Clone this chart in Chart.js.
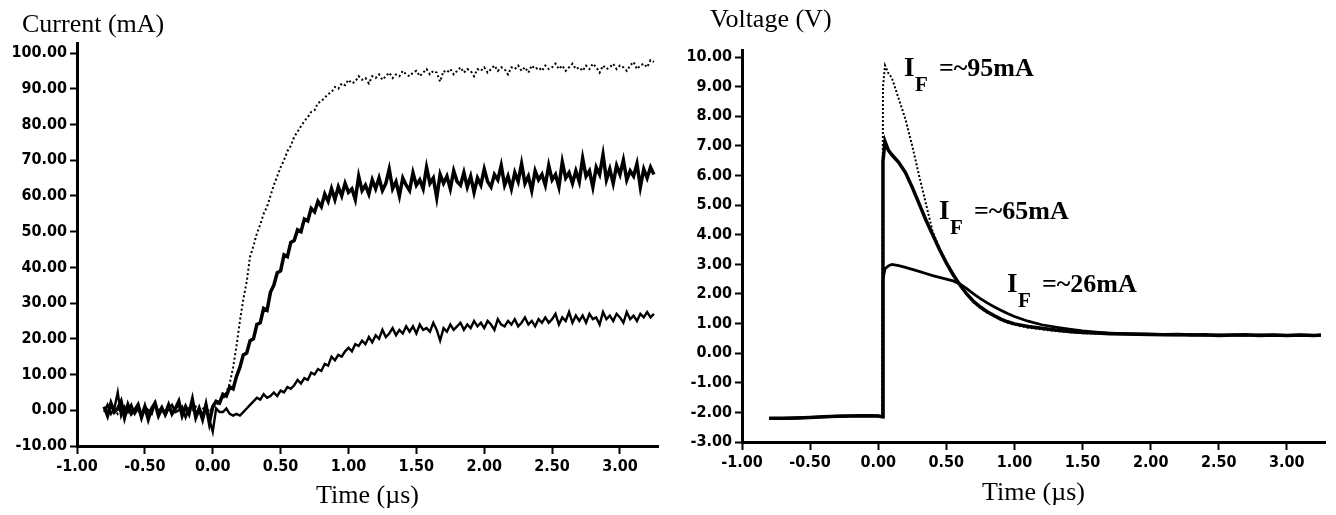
<!DOCTYPE html>
<html>
<head>
<meta charset="utf-8">
<script src="https://cdn.jsdelivr.net/npm/chart.js@4.4.1/dist/chart.umd.min.js"></script>
<style>
  html, body { margin: 0; padding: 0; background: #fff; }
  #wrap { position: relative; width: 1336px; height: 515px; }
  .pane { position: absolute; top: 0; width: 668px; height: 515px; }
</style>
</head>
<body>
<div id="wrap">
  <div class="pane" style="left:0"><canvas id="currentChart" width="668" height="515"></canvas></div>
  <div class="pane" style="left:668px"><canvas id="voltageChart" width="668" height="515"></canvas></div>
</div>
<script>
// tick labels
const timeTicks = [-1, -0.5, 0, 0.5, 1, 1.5, 2, 2.5, 3]
const currentTicks = [-10, 0, 10, 20, 30, 40, 50, 60, 70, 80, 90, 100]
const voltageTicks = [-3, -2, -1, 0, 1, 2, 3, 4, 5, 6, 7, 8, 9, 10]

// current traces: sampled every 0.025 us starting at -0.8 us
const curStart = -0.8
const curStep = 0.025

const cur95 = [
  0.5, -0.8, 1.2, 0.3, -1.0, 0.8, -0.4, 1.5, 0.2, -0.6,
  0.9, -0.3, 0.4, -1.1, 0.7, 1.8, -0.5, 0.3, -0.9, 1.1,
  0.2, -0.7, 1.4, 0.5, -1.2, 0.6, -0.3, 1.0, -0.8, 0.4,
  1.2, -0.5, 0.8, 1.5, 2.2, 3.2, 5.0, 7.5, 12.0, 18.0,
  25.0, 31.0, 36.0, 43.0, 46.0, 49.5, 52.0, 55.0, 57.0, 60.0,
  63.0, 65.5, 68.0, 70.0, 72.5, 74.0, 76.5, 78.0, 79.5, 81.0,
  82.0, 83.5, 84.0, 86.0, 86.5, 87.5, 88.5, 89.0, 90.5, 90.0,
  91.5, 91.0, 92.5, 91.5, 92.0, 93.5, 92.5, 93.0, 91.5, 93.5,
  93.0, 94.0, 92.5, 93.5, 94.5, 93.0, 94.0, 93.5, 95.0, 94.0,
  93.5, 94.5, 95.0, 93.5, 94.5, 95.5, 94.0, 95.0, 94.5, 92.0,
  95.0, 94.5, 95.5, 94.0, 95.0, 96.0, 94.5, 95.5, 95.0, 93.5,
  95.5, 95.0, 96.0, 94.5, 95.5, 96.5, 95.0, 96.0, 95.5, 94.0,
  96.0, 95.5, 96.5, 95.0, 96.0, 94.5, 96.5, 95.5, 96.0, 95.0,
  96.5, 95.5, 96.0, 97.0, 95.5, 96.5, 95.0, 96.0, 97.0, 95.5,
  96.0, 95.0, 96.5, 95.5, 97.0, 96.0, 94.5, 96.5, 95.5, 96.0,
  97.0, 95.5, 96.5, 96.0, 95.0, 96.5, 97.5, 95.5, 96.5, 97.0,
  96.0, 98.0, 97.5
]

const cur65 = [
  1.0, -1.5, 2.0, -0.5, 0.5, 2.5, -2.0, 1.5, -1.0, 0.0,
  1.5, -2.0, 1.0, -2.5, 0.5, 2.0, -1.5, 0.5, -1.0, 1.5,
  -1.0, 0.5, 2.5, -1.5, 1.0, -1.0, 3.0, -2.0, 0.5, -2.5,
  1.5, -3.5, 1.0, 2.5, 2.0, 4.5, 4.0, 6.5, 6.0, 9.5,
  12.0, 15.5, 16.0, 19.5, 20.0, 24.0, 24.5, 28.5, 28.0, 33.0,
  35.0, 38.5, 39.0, 43.5, 43.0, 47.0, 47.5, 50.5, 50.0, 53.5,
  53.0, 56.5, 55.5, 58.5, 57.0, 60.5, 58.5, 62.0, 59.0, 62.5,
  60.0, 63.5, 61.0, 62.0, 59.0, 65.5, 61.5, 63.0, 60.5, 64.5,
  62.0, 65.0, 61.5, 63.5, 67.5, 62.0, 64.0, 60.0, 65.0, 63.0,
  61.5, 66.5, 63.0, 64.5, 62.0, 68.0, 63.5, 65.0, 59.5, 66.0,
  63.5, 65.5, 62.0, 67.0, 64.0, 63.0, 66.5, 62.5, 65.5, 61.0,
  65.0, 63.0, 67.5, 64.0, 62.5, 66.0, 64.5, 68.5, 63.0, 65.5,
  62.0, 66.5, 64.0, 69.0, 63.5, 65.5, 61.5, 67.0, 64.5, 66.0,
  63.0, 68.5, 64.5, 66.0, 62.5, 69.5, 65.0, 66.5, 63.5, 67.0,
  64.0, 70.5, 65.5, 67.0, 62.5, 68.0, 66.0, 71.5, 64.5, 67.5,
  63.5, 68.5, 66.0, 70.0, 64.5, 67.0, 65.5, 69.0, 62.5, 67.5,
  65.0, 68.0, 66.0
]

const cur26 = [
  -0.5, 1.5, -1.0, 0.5, 5.0, -1.5, 1.0, -0.5, 1.5, -1.0,
  0.5, -1.5, 1.0, 0.0, -1.0, 2.0, -0.5, 1.0, -1.5, 0.5,
  1.5, -0.5, 0.0, 1.0, -2.0, 0.5, 1.5, -1.0, 0.5, -1.5,
  1.0, -2.5, -6.0, 0.5, -0.5, -0.5, 0.5, -1.0, -1.5, -1.0,
  -1.5, -0.5, 0.5, 1.5, 2.5, 3.5, 3.0, 4.5, 3.5, 4.0,
  5.0, 4.0, 5.5, 5.0, 6.5, 6.0, 7.0, 8.5, 7.5, 9.0,
  8.5, 10.5, 10.0, 11.5, 11.0, 13.0, 12.5, 15.0, 14.0, 15.5,
  15.0, 16.5, 17.5, 16.5, 18.5, 18.0, 19.5, 18.5, 20.5, 19.0,
  21.0, 20.0, 22.5, 20.5, 21.5, 23.0, 21.0, 22.5, 21.5, 23.5,
  22.0, 23.5, 21.5, 24.0, 22.5, 23.0, 22.0, 24.5, 22.5, 19.5,
  23.0, 22.0, 24.0, 22.5, 23.5, 24.5, 22.5, 24.0, 23.0, 25.0,
  23.5, 24.5, 23.0, 25.0, 24.0, 22.5, 25.5, 24.0, 23.5, 25.0,
  24.0, 25.5, 23.5, 24.5, 26.0, 24.0, 25.0, 23.5, 25.5, 24.5,
  26.0, 24.5, 25.5, 27.0, 24.0, 26.0, 25.0, 27.5, 24.5, 26.5,
  25.0, 26.5, 24.5, 27.0, 25.5, 26.0, 24.0, 27.5, 25.5, 26.5,
  25.0, 27.0, 26.0, 24.5, 27.5, 25.5, 26.5, 25.0, 27.0, 26.0,
  27.5, 26.0, 27.0
]

// voltage traces
const voltTimes = [
  -0.8, -0.7, -0.6, -0.5, -0.4, -0.3, -0.2, -0.1, 0.0, 0.03,
  0.035, 0.05, 0.075, 0.1, 0.15, 0.2, 0.25, 0.3, 0.35, 0.4,
  0.45, 0.5, 0.55, 0.6, 0.65, 0.7, 0.75, 0.8, 0.85, 0.9,
  0.95, 1.0, 1.1, 1.2, 1.3, 1.4, 1.5, 1.6, 1.7, 1.8,
  1.9, 2.0, 2.1, 2.2, 2.3, 2.4, 2.5, 2.6, 2.7, 2.8,
  2.9, 3.0, 3.1, 3.2, 3.25
]

const volt95 = [
  -2.2, -2.2, -2.19, -2.17, -2.15, -2.13, -2.12, -2.11, -2.12, -2.15,
  9.0, 9.72, 9.45, 9.3, 8.6, 7.9, 7.0, 6.0, 5.05, 4.1,
  3.55, 3.08, 2.7, 2.3, 1.98, 1.72, 1.52, 1.37, 1.24, 1.12,
  1.03, 0.96, 0.86, 0.8, 0.75, 0.71, 0.68, 0.66, 0.65, 0.64,
  0.63, 0.62, 0.63, 0.61, 0.62, 0.61, 0.6, 0.62, 0.61, 0.6,
  0.61, 0.6, 0.61, 0.6, 0.6
]

const volt65 = [
  -2.2, -2.2, -2.19, -2.17, -2.15, -2.13, -2.12, -2.11, -2.12, -2.15,
  6.5, 7.15, 6.85, 6.7, 6.45, 6.1, 5.6, 5.05, 4.5, 4.0,
  3.5, 3.05, 2.65, 2.3, 2.0, 1.75, 1.56, 1.4, 1.27, 1.15,
  1.06, 0.99, 0.9, 0.84, 0.78, 0.73, 0.7, 0.68, 0.66, 0.65,
  0.64, 0.63, 0.62, 0.63, 0.61, 0.62, 0.6, 0.61, 0.62, 0.6,
  0.61, 0.6, 0.61, 0.6, 0.61
]

const volt26 = [
  -2.2, -2.2, -2.19, -2.17, -2.15, -2.13, -2.12, -2.11, -2.12, -2.15,
  2.5, 2.85, 2.95, 3.0, 2.96, 2.9, 2.83, 2.76, 2.69, 2.62,
  2.56, 2.5, 2.44, 2.34, 2.18, 2.0, 1.84, 1.7, 1.57, 1.45,
  1.34, 1.24, 1.08, 0.96, 0.88, 0.81, 0.75, 0.71, 0.68, 0.66,
  0.65, 0.64, 0.63, 0.62, 0.63, 0.61, 0.62, 0.61, 0.6, 0.62,
  0.61, 0.6, 0.61, 0.6, 0.6
]

const tickFont = { family: '"DejaVu Sans Condensed", "DejaVu Sans", sans-serif', size: 16, weight: 'bold' }
const serif = '"Liberation Serif", "Times New Roman", serif'

const curPoints = arr => arr.map((v, i) => ({ x: curStart + i * curStep, y: v }))
const voltPoints = arr => arr.map((v, i) => ({ x: voltTimes[i], y: v }))

function xAxis(height) {
  return {
    type: 'linear',
    min: -1,
    max: 3.28,
    afterBuildTicks: s => { s.ticks = timeTicks.map(v => ({ value: v })) },
    afterFit: s => { s.height = height },
    ticks: { color: '#000', font: tickFont, padding: 3, maxRotation: 0, autoSkip: false, callback: v => v.toFixed(2) },
    grid: { drawOnChartArea: false, tickLength: 8, tickWidth: 2, tickColor: '#000' },
    border: { color: '#000', width: 3 }
  }
}

function yAxis(width, min, max, ticks) {
  return {
    type: 'linear',
    min: min,
    max: max,
    afterBuildTicks: s => { s.ticks = ticks.map(v => ({ value: v })) },
    afterFit: s => { s.width = width },
    ticks: { color: '#000', font: tickFont, padding: 3, autoSkip: false, callback: v => v.toFixed(2) },
    grid: { drawOnChartArea: false, tickLength: 7, tickWidth: 2, tickColor: '#000' },
    border: { color: '#000', width: 3 }
  }
}

// titles and labels drawn on top of the canvas
function textPlugin(title, titleX, titleY, timeY, notes) {
  return {
    id: 'texts',
    afterDraw(chart) {
      const ctx = chart.ctx
      const area = chart.chartArea
      ctx.save()
      ctx.fillStyle = '#000'
      ctx.textBaseline = 'alphabetic'
      ctx.font = '26px ' + serif
      ctx.textAlign = 'left'
      ctx.fillText(title, titleX, titleY)
      ctx.textAlign = 'center'
      ctx.fillText('Time (µs)', (area.left + area.right) / 2, timeY)
      ctx.textAlign = 'left'
      notes.forEach(n => {
        ctx.font = 'bold 27px ' + serif
        ctx.fillText('I', n.x, n.y)
        ctx.font = 'bold 21px ' + serif
        ctx.fillText('F', n.x + 11, n.y + 15)
        ctx.font = 'bold 26px ' + serif
        ctx.fillText(n.text, n.x + 35, n.y)
      })
      ctx.restore()
    }
  }
}

const common = {
  responsive: false,
  animation: false,
  events: [],
  plugins: { legend: { display: false }, tooltip: { enabled: false } },
  elements: { point: { radius: 0 }, line: { tension: 0 } }
}

new Chart(document.getElementById('currentChart'), {
  type: 'line',
  data: {
    datasets: [
      { data: curPoints(cur95), borderColor: '#000', borderWidth: 2, borderDash: [2, 2.5] },
      { data: curPoints(cur65), borderColor: '#000', borderWidth: 3.5 },
      { data: curPoints(cur26), borderColor: '#000', borderWidth: 2.4 }
    ]
  },
  options: {
    ...common,
    layout: { padding: { left: 0, right: 10, top: 43, bottom: 0 } },
    scales: { x: xAxis(69), y: yAxis(77, -10, 102.8, currentTicks) }
  },
  plugins: [textPlugin('Current (mA)', 22, 32, 503, [])]
})

new Chart(document.getElementById('voltageChart'), {
  type: 'line',
  data: {
    datasets: [
      { data: voltPoints(volt95), borderColor: '#000', borderWidth: 2, borderDash: [2, 2] },
      { data: voltPoints(volt65), borderColor: '#000', borderWidth: 3.5 },
      { data: voltPoints(volt26), borderColor: '#000', borderWidth: 2.8 }
    ]
  },
  options: {
    ...common,
    layout: { padding: { left: 0, right: 11, top: 50, bottom: 0 } },
    scales: { x: xAxis(73), y: yAxis(74, -3, 10.24, voltageTicks) }
  },
  plugins: [textPlugin('Voltage (V)', 42, 27, 500, [
    { x: 236, y: 76, text: '=~95mA' },
    { x: 271, y: 219, text: '=~65mA' },
    { x: 339, y: 292, text: '=~26mA' }
  ])]
})
</script>
</body>
</html>
